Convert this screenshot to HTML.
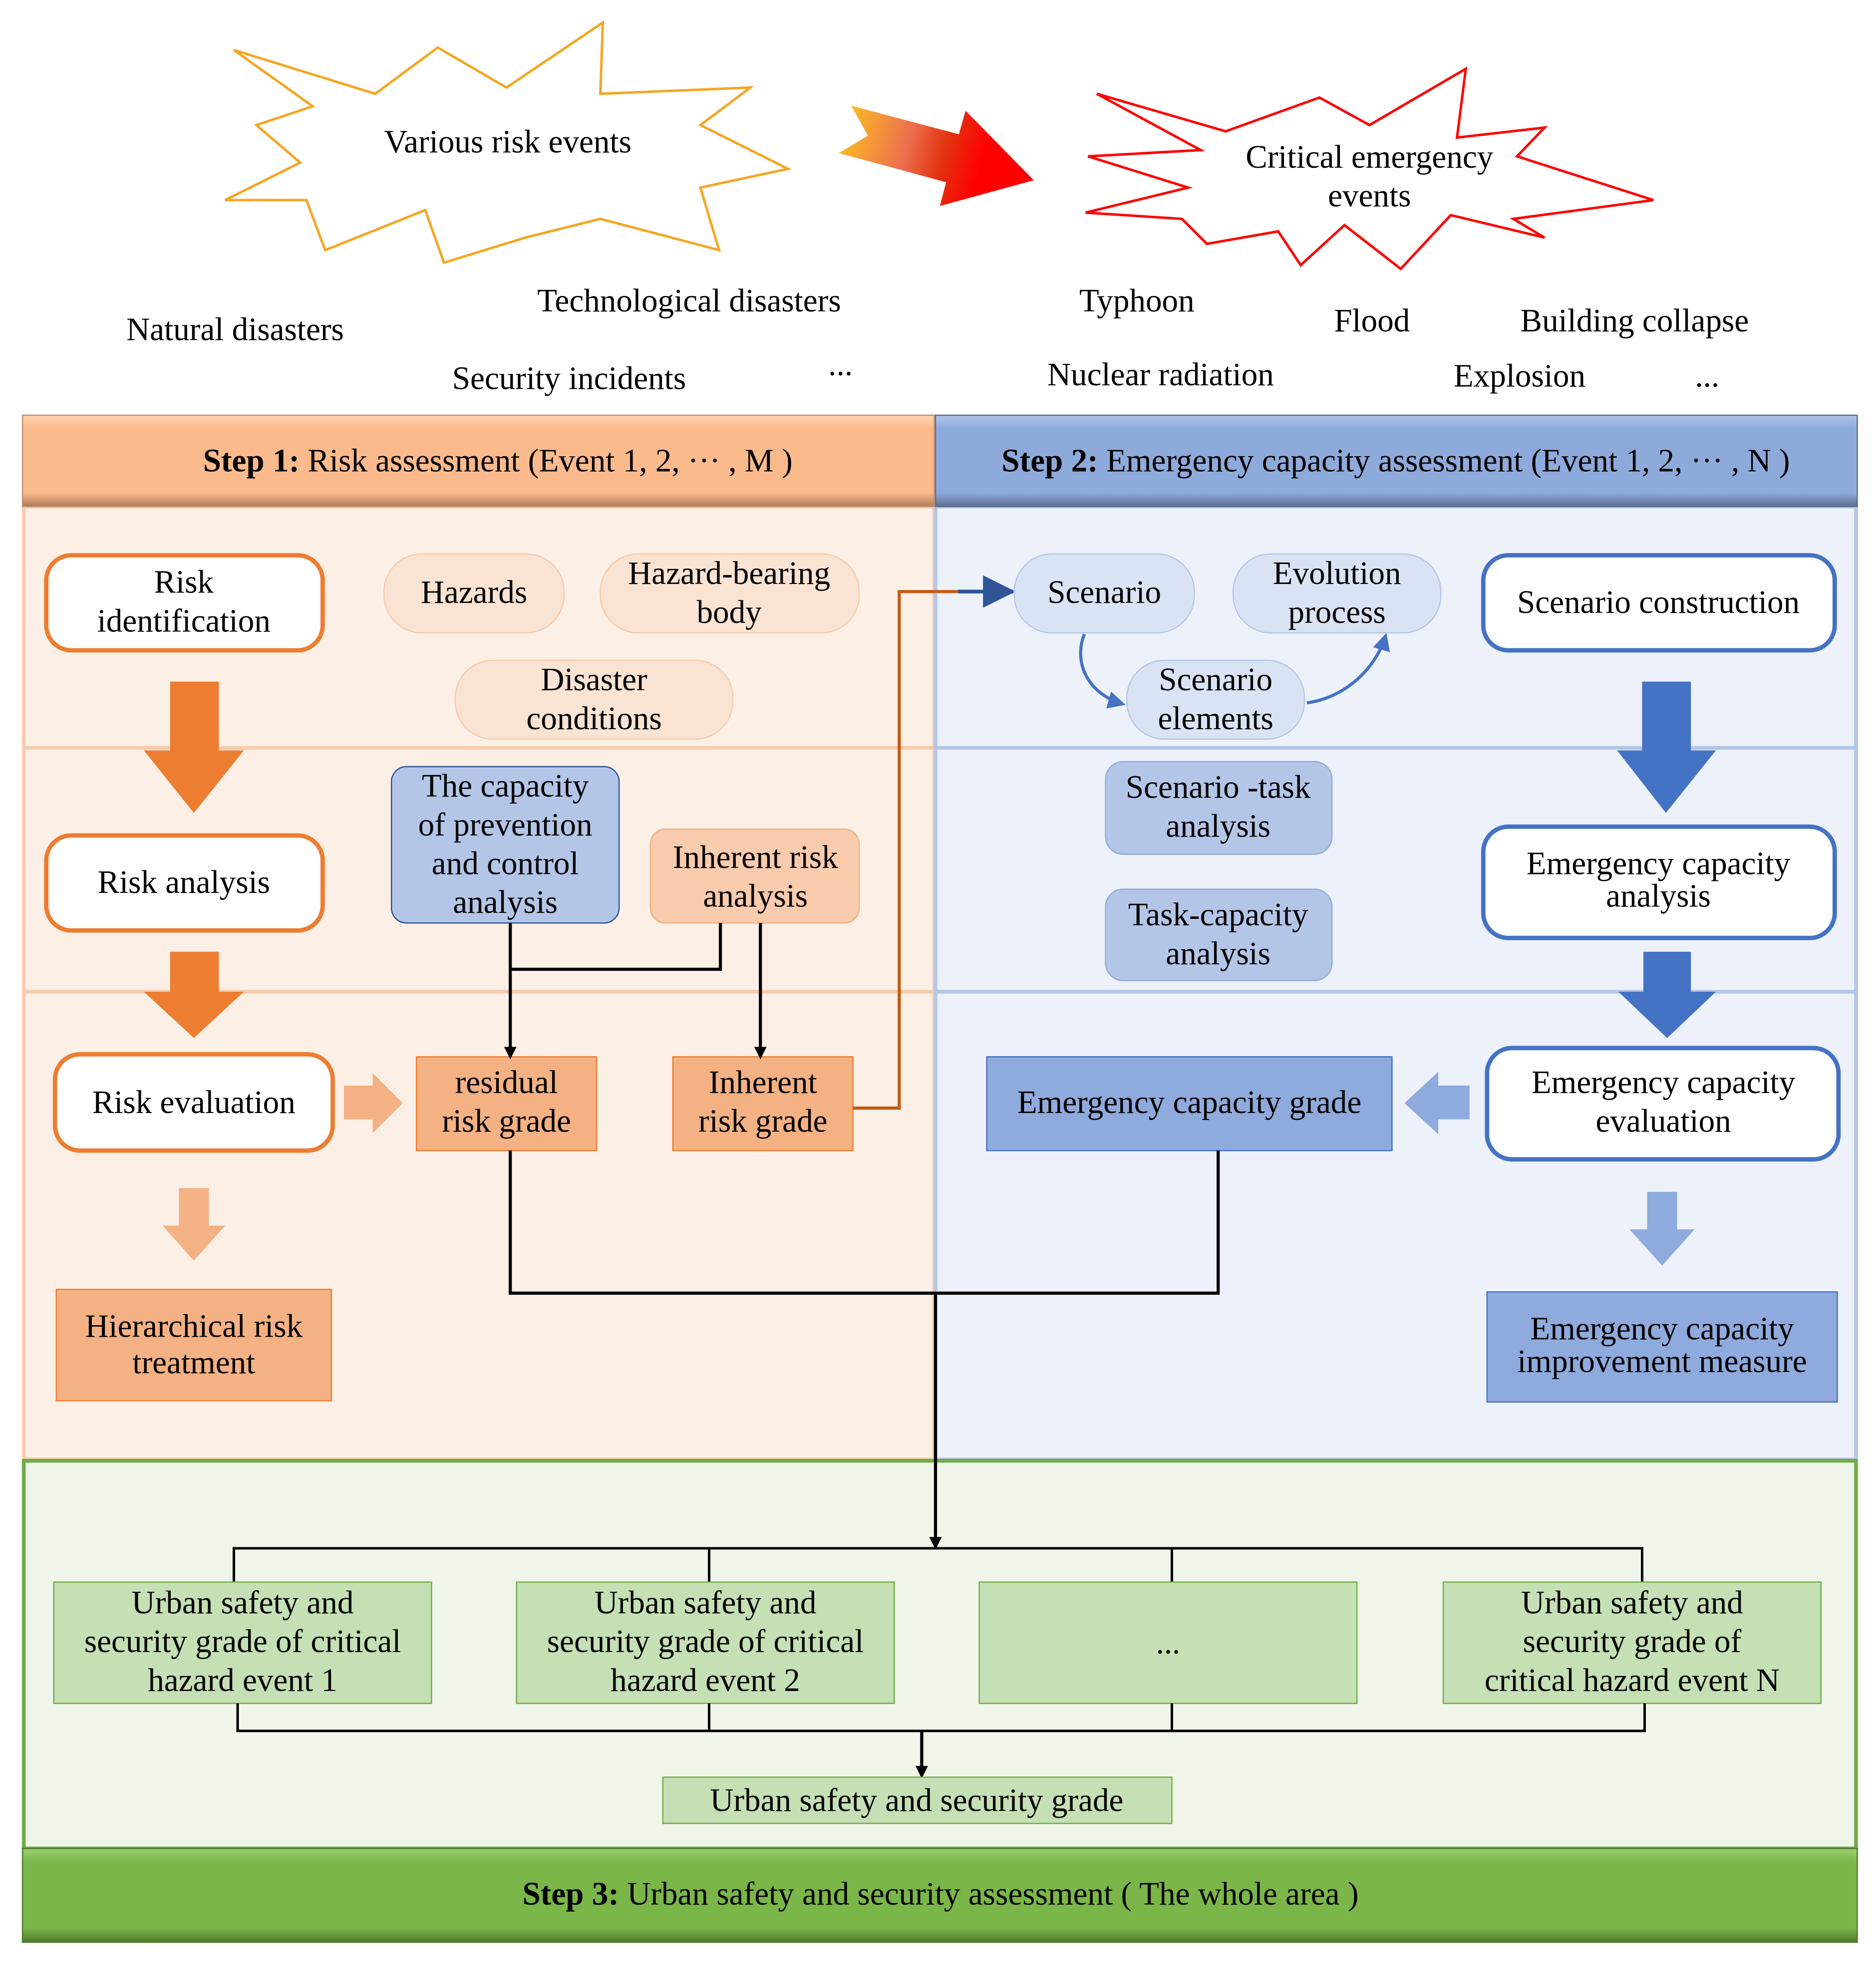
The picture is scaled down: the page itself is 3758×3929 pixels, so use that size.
<!DOCTYPE html>
<html><head><meta charset="utf-8"><style>html,body{margin:0;padding:0;background:#fff}svg{display:block}</style></head>
<body>
<svg xmlns="http://www.w3.org/2000/svg" width="3758" height="3929" viewBox="0 0 1500 1568" preserveAspectRatio="none" font-family="'Liberation Serif', serif" font-size="26" fill="#000">
<defs>
<linearGradient id="ga" x1="0" x2="1" y1="0" y2="0.15"><stop offset="0" stop-color="#FFC81E"/><stop offset="0.4" stop-color="#EC6F4E"/><stop offset="0.6" stop-color="#E3320F"/><stop offset="0.8" stop-color="#FF0000"/><stop offset="1" stop-color="#FF0000"/></linearGradient>
<linearGradient id="h1" x1="0" x2="0" y1="0" y2="1"><stop offset="0" stop-color="#FFD3B0"/><stop offset="0.15" stop-color="#FBBA8C"/><stop offset="0.85" stop-color="#FBBA8C"/><stop offset="1" stop-color="#B07A5A"/></linearGradient>
<linearGradient id="h2" x1="0" x2="0" y1="0" y2="1"><stop offset="0" stop-color="#B0C4EA"/><stop offset="0.15" stop-color="#8EAADB"/><stop offset="0.85" stop-color="#8EAADB"/><stop offset="1" stop-color="#5C6E90"/></linearGradient>
<linearGradient id="h3" x1="0" x2="0" y1="0" y2="1"><stop offset="0" stop-color="#9DD070"/><stop offset="0.15" stop-color="#7AB648"/><stop offset="0.85" stop-color="#7AB648"/><stop offset="1" stop-color="#4C7A2A"/></linearGradient>
<marker id="ar" markerWidth="10" markerHeight="10" refX="8" refY="5" orient="auto" markerUnits="userSpaceOnUse"><path d="M0,0 L10,5 L0,10 z" fill="#000"/></marker>
<marker id="ab" markerWidth="14" markerHeight="14" refX="12" refY="7" orient="auto" markerUnits="userSpaceOnUse"><path d="M0,0 L14,7 L0,14 z" fill="#4472C4"/></marker>
<marker id="ab2" markerWidth="26" markerHeight="26" refX="24" refY="13" orient="auto" markerUnits="userSpaceOnUse"><path d="M0,0 L26,13 L0,26 z" fill="#2F5597"/></marker>
</defs>

<!-- starbursts -->
<polygon points="187,40 300,75 350,38 405,70 482,18 480,75 600,70 560,100 630,135 560,150 575,200 480,175 420,190 355,210 340,168 260,200 245,160 180,160 240,130 205,100 250,85" fill="#fff" stroke="#F5A623" stroke-width="2"/>
<text x="406" y="122" text-anchor="middle">Various risk events</text>
<polygon points="680.6,84.5 693.9,108.5 670.6,122.4 756.5,145.7 751.5,164.7 826.6,144.1 772,88.5 766.7,107.4" fill="url(#ga)"/>
<polygon points="877,75 980,105 1055,78 1095,100 1172,55 1165,110 1235,102 1213,125 1322,160 1210,175 1235,190 1160,172 1120,215 1075,180 1040,212 1022,185 965,195 945,175 868,170 950,150 870,125 960,120" fill="#fff" stroke="#FF0000" stroke-width="2"/>
<text x="1095" y="134" text-anchor="middle">Critical emergency</text>
<text x="1095" y="165" text-anchor="middle">events</text>

<text x="188" y="272" text-anchor="middle">Natural disasters</text>
<text x="551" y="249" text-anchor="middle">Technological disasters</text>
<text x="455" y="311" text-anchor="middle">Security incidents</text>
<text x="672" y="300" text-anchor="middle">...</text>
<text x="909" y="249" text-anchor="middle">Typhoon</text>
<text x="1097" y="265" text-anchor="middle">Flood</text>
<text x="1307" y="265" text-anchor="middle">Building collapse</text>
<text x="928" y="308" text-anchor="middle">Nuclear radiation</text>
<text x="1215" y="309" text-anchor="middle">Explosion</text>
<text x="1365" y="309" text-anchor="middle">...</text>

<!-- panels -->
<rect x="19" y="405" width="728" height="762" fill="#FCF0E6" stroke="#F8CBAD" stroke-width="3"/>
<line x1="19" y1="598" x2="747" y2="598" stroke="#F8CBAD" stroke-width="3"/>
<line x1="19" y1="793" x2="747" y2="793" stroke="#F8CBAD" stroke-width="3"/>
<rect x="748" y="405" width="736" height="762" fill="#EDF1F9" stroke="#B4C6E7" stroke-width="3"/>
<line x1="748" y1="598" x2="1484" y2="598" stroke="#B4C6E7" stroke-width="3"/>
<line x1="748" y1="793" x2="1484" y2="793" stroke="#B4C6E7" stroke-width="3"/>
<rect x="19" y="1168" width="1465" height="310" fill="#F0F5EA" stroke="#70AD47" stroke-width="3"/>

<rect x="18" y="332" width="729" height="73" fill="url(#h1)" stroke="#C49070" stroke-width="1"/>
<text x="398" y="377" text-anchor="middle"><tspan font-weight="bold">Step 1:</tspan>  Risk assessment (Event 1, 2, ··· , M )</text>
<rect x="748" y="332" width="737" height="73" fill="url(#h2)" stroke="#5C6E90" stroke-width="1"/>
<text x="1116" y="377" text-anchor="middle"><tspan font-weight="bold">Step 2:</tspan> Emergency capacity assessment  (Event 1, 2, ··· , N )</text>
<rect x="18" y="1478" width="1467" height="75" fill="url(#h3)" stroke="#4C7A2A" stroke-width="1"/>
<text x="752" y="1523" text-anchor="middle"><tspan font-weight="bold">Step 3:</tspan> Urban safety and security assessment ( The whole area )</text>

<!-- left column -->
<rect x="37" y="444" width="221" height="76" rx="20" fill="#fff" stroke="#ED7D31" stroke-width="3.5"/>
<text x="147" y="474" text-anchor="middle">Risk</text><text x="147" y="505" text-anchor="middle">identification</text>
<rect x="307" y="443" width="144" height="63" rx="30" fill="#F9E3D2" stroke="#F8CBAD"/>
<text x="379" y="482" text-anchor="middle">Hazards</text>
<rect x="480" y="443" width="207" height="63" rx="30" fill="#F9E3D2" stroke="#F8CBAD"/>
<text x="583" y="467" text-anchor="middle">Hazard-bearing</text><text x="583" y="498" text-anchor="middle">body</text>
<rect x="364" y="528" width="222" height="63" rx="30" fill="#F9E3D2" stroke="#F8CBAD"/>
<text x="475" y="552" text-anchor="middle">Disaster</text><text x="475" y="583" text-anchor="middle">conditions</text>
<polygon points="136,545 175,545 175,600 195,600 155,650 115,600 136,600" fill="#ED7D31"/>
<rect x="37" y="668" width="221" height="76" rx="20" fill="#fff" stroke="#ED7D31" stroke-width="3.5"/>
<text x="147" y="714" text-anchor="middle">Risk analysis</text>
<rect x="313" y="613" width="182" height="125" rx="12" fill="#B4C6E7" stroke="#2F5597"/>
<text x="404" y="637" text-anchor="middle">The capacity</text><text x="404" y="668" text-anchor="middle">of prevention</text><text x="404" y="699" text-anchor="middle">and control</text><text x="404" y="730" text-anchor="middle">analysis</text>
<rect x="520" y="663" width="167" height="75" rx="12" fill="#F8CBAD" stroke="#F4B183"/>
<text x="604" y="694" text-anchor="middle">Inherent risk</text><text x="604" y="725" text-anchor="middle">analysis</text>
<polygon points="136,761 175,761 175,793 195,793 155,830 115,793 136,793" fill="#ED7D31"/>
<rect x="44" y="843" width="222" height="77" rx="20" fill="#fff" stroke="#ED7D31" stroke-width="3.5"/>
<text x="155" y="890" text-anchor="middle">Risk evaluation</text>
<polygon points="275,868 298,868 298,858 322,882 298,906 298,895 275,895" fill="#F4B183"/>
<rect x="333" y="845" width="144" height="75" fill="#F4B183" stroke="#ED7D31"/>
<text x="405" y="874" text-anchor="middle">residual</text><text x="405" y="905" text-anchor="middle">risk grade</text>
<rect x="538" y="845" width="144" height="75" fill="#F4B183" stroke="#ED7D31"/>
<text x="610" y="874" text-anchor="middle">Inherent</text><text x="610" y="905" text-anchor="middle">risk grade</text>
<polyline points="408,738 408,845" fill="none" stroke="#000" stroke-width="2.5" marker-end="url(#ar)"/>
<polyline points="576,738 576,775 408,775" fill="none" stroke="#000" stroke-width="2.5"/>
<polyline points="608,738 608,845" fill="none" stroke="#000" stroke-width="2.5" marker-end="url(#ar)"/>
<polyline points="682,886 719,886 719,473 768,473" fill="none" stroke="#C55A11" stroke-width="2.5"/>
<line x1="766" y1="473" x2="810" y2="473" stroke="#2F5597" stroke-width="3" marker-end="url(#ab2)"/>
<polygon points="143,950 167,950 167,980 180,980 155,1008 130,980 143,980" fill="#F4B183"/>
<rect x="45" y="1031" width="220" height="89" fill="#F4B183" stroke="#ED7D31"/>
<text x="155" y="1069" text-anchor="middle">Hierarchical risk</text><text x="155" y="1098" text-anchor="middle">treatment</text>

<!-- right column -->
<rect x="811" y="443" width="144" height="63" rx="30" fill="#DAE3F3" stroke="#B4C6E7"/>
<text x="883" y="482" text-anchor="middle">Scenario</text>
<rect x="986" y="443" width="166" height="63" rx="30" fill="#DAE3F3" stroke="#B4C6E7"/>
<text x="1069" y="467" text-anchor="middle">Evolution</text><text x="1069" y="498" text-anchor="middle">process</text>
<rect x="901" y="528" width="142" height="63" rx="30" fill="#DAE3F3" stroke="#B4C6E7"/>
<text x="972" y="552" text-anchor="middle">Scenario</text><text x="972" y="583" text-anchor="middle">elements</text>
<path d="M867,507 C858,530 870,555 898,563" fill="none" stroke="#4472C4" stroke-width="2.5" marker-end="url(#ab)"/>
<path d="M1045,562 C1075,558 1100,535 1108,508" fill="none" stroke="#4472C4" stroke-width="2.5" marker-end="url(#ab)"/>
<rect x="1186" y="444" width="281" height="76" rx="20" fill="#fff" stroke="#4472C4" stroke-width="3.5"/>
<text x="1326" y="490" text-anchor="middle">Scenario construction</text>
<polygon points="1313,545 1352,545 1352,600 1372,600 1332,650 1293,600 1313,600" fill="#4472C4"/>
<rect x="884" y="609" width="181" height="74" rx="14" fill="#B4C6E7" stroke="#8FAADC"/>
<text x="974" y="638" text-anchor="middle">Scenario -task</text><text x="974" y="669" text-anchor="middle">analysis</text>
<rect x="884" y="711" width="181" height="73" rx="14" fill="#B4C6E7" stroke="#8FAADC"/>
<text x="974" y="740" text-anchor="middle">Task-capacity</text><text x="974" y="771" text-anchor="middle">analysis</text>
<rect x="1186" y="661" width="281" height="89" rx="20" fill="#fff" stroke="#4472C4" stroke-width="3.5"/>
<text x="1326" y="699" text-anchor="middle">Emergency capacity</text><text x="1326" y="725" text-anchor="middle">analysis</text>
<polygon points="1314,761 1352,761 1352,793 1372,793 1333,830 1294,793 1314,793" fill="#4472C4"/>
<rect x="1189" y="838" width="281" height="89" rx="20" fill="#fff" stroke="#4472C4" stroke-width="3.5"/>
<text x="1330" y="874" text-anchor="middle">Emergency  capacity</text><text x="1330" y="905" text-anchor="middle">evaluation</text>
<rect x="789" y="845" width="324" height="75" fill="#8FAADC" stroke="#4472C4"/>
<text x="951" y="890" text-anchor="middle">Emergency capacity grade</text>
<polygon points="1175,868 1150,868 1150,857 1123,882 1150,907 1150,895 1175,895" fill="#8FAADC"/>
<polygon points="1317,953 1341,953 1341,983 1355,983 1329,1012 1303,983 1317,983" fill="#8FAADC"/>
<rect x="1189" y="1033" width="280" height="88" fill="#8FAADC" stroke="#4472C4"/>
<text x="1329" y="1071" text-anchor="middle">Emergency  capacity</text><text x="1329" y="1097" text-anchor="middle">improvement measure</text>

<!-- connectors -->
<polyline points="408,920 408,1034 974,1034 974,920" fill="none" stroke="#000" stroke-width="2.5"/>
<line x1="748" y1="1034" x2="748" y2="1237" stroke="#000" stroke-width="2.5" marker-end="url(#ar)"/>
<polyline points="187,1265 187,1238 1313,1238 1313,1265" fill="none" stroke="#000" stroke-width="2"/>
<line x1="567" y1="1238" x2="567" y2="1265" stroke="#000" stroke-width="2"/>
<line x1="937" y1="1238" x2="937" y2="1265" stroke="#000" stroke-width="2"/>

<!-- bottom boxes -->
<rect x="43" y="1265" width="302" height="97" fill="#C5E0B4" stroke="#70AD47"/>
<text x="194" y="1290" text-anchor="middle">Urban safety and</text><text x="194" y="1321" text-anchor="middle">security grade of critical</text><text x="194" y="1352" text-anchor="middle">hazard event 1</text>
<rect x="413" y="1265" width="302" height="97" fill="#C5E0B4" stroke="#70AD47"/>
<text x="564" y="1290" text-anchor="middle">Urban safety and</text><text x="564" y="1321" text-anchor="middle">security grade of  critical</text><text x="564" y="1352" text-anchor="middle">hazard event 2</text>
<rect x="783" y="1265" width="302" height="97" fill="#C5E0B4" stroke="#70AD47"/>
<text x="934" y="1322" text-anchor="middle">...</text>
<rect x="1154" y="1265" width="302" height="97" fill="#C5E0B4" stroke="#70AD47"/>
<text x="1305" y="1290" text-anchor="middle">Urban safety and</text><text x="1305" y="1321" text-anchor="middle">security  grade of</text><text x="1305" y="1352" text-anchor="middle">critical hazard event N</text>
<polyline points="190,1362 190,1384 1315,1384 1315,1362" fill="none" stroke="#000" stroke-width="2"/>
<line x1="567" y1="1362" x2="567" y2="1384" stroke="#000" stroke-width="2"/>
<line x1="937" y1="1362" x2="937" y2="1384" stroke="#000" stroke-width="2"/>
<line x1="737" y1="1384" x2="737" y2="1420" stroke="#000" stroke-width="2.5" marker-end="url(#ar)"/>
<rect x="530" y="1421" width="407" height="37" fill="#C5E0B4" stroke="#70AD47"/>
<text x="733" y="1448" text-anchor="middle">Urban safety and security grade</text>
</svg>
</body></html>
